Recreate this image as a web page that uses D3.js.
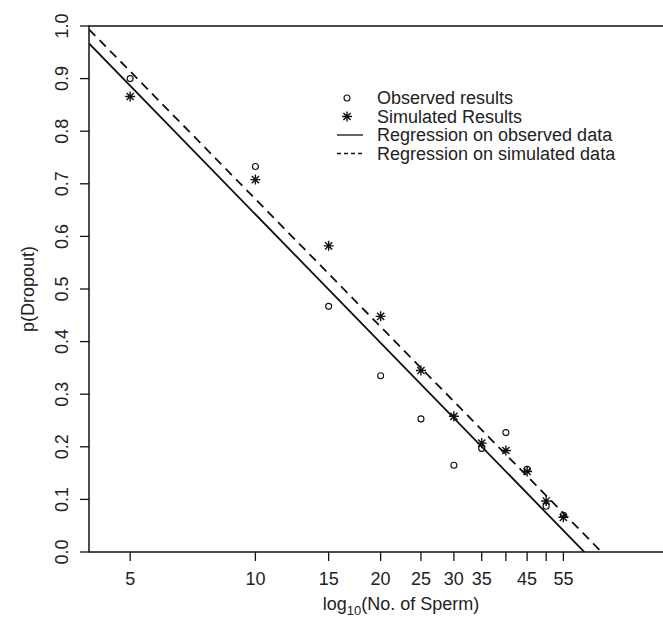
<!DOCTYPE html>
<html>
<head>
<meta charset="utf-8">
<script src="https://cdn.jsdelivr.net/npm/d3@7"></script>
<style>
    body { margin: 0; background: #ffffff; }
    text { font-family: "Liberation Sans", Arial, Helvetica, sans-serif; fill: #222222; }
</style>
</head>
<body>
<svg id="svgDropout" width="663" height="617"></svg>
<script>

// Number of sperm (x values)
var sperm = [5, 10, 15, 20, 25, 30, 35, 40, 45, 50, 55];

// Dropout probabilities
var observed = [0.900, 0.733, 0.467, 0.335, 0.253, 0.165, 0.197, 0.227, 0.157, 0.087, 0.070];
var simulated = [0.866, 0.708, 0.582, 0.448, 0.345, 0.258, 0.207, 0.193, 0.153, 0.097, 0.066];

// Regression coefficients, p = intercept + slope * log10(sperm)
var observedFit = [1.454, -0.812];
var simulatedFit = [1.4775, -0.8065];

// Axis ticks
var xTicks = [5, 10, 15, 20, 25, 30, 35, 40, 45, 50, 55];
var xTickLabels = ["5", "10", "15", "20", "25", "30", "35", "", "45", "", "55"];
var yTicks = [0.0, 0.1, 0.2, 0.3, 0.4, 0.5, 0.6, 0.7, 0.8, 0.9, 1.0];

// Legend entries
var legendLabels = ["Observed results", "Simulated Results",
    "Regression on observed data", "Regression on simulated data"];

function dropoutPlot() {
    /*
    Draws the dropout probability against number of sperm
    */

    var padding = {
        top: 26,
        left: 89,
        bottom: 65,
        right: -50
    };

    var svg = d3.select("#svgDropout");
    var svgWidth = +svg.attr("width");
    var svgHeight = +svg.attr("height");

    var xScale = d3.scaleLog()
        .domain([Math.pow(10, 0.6), Math.pow(10, 2.1)])
        .range([padding.left, svgWidth - padding.right]);

    var yScale = d3.scaleLinear()
        .domain([0, 1])
        .range([svgHeight - padding.bottom, padding.top]);

    var x0 = xScale.range()[0], x1 = xScale.range()[1];
    var y0 = yScale.range()[0], y1 = yScale.range()[1];

    // Clip path for the regression lines
    svg.append("clipPath")
        .attr("id", "plotClip")
        .append("rect")
        .attr("x", x0)
        .attr("y", y1)
        .attr("width", x1 - x0)
        .attr("height", y0 - y1);

    // Plot box
    svg.append("rect")
        .attr("x", x0)
        .attr("y", y1)
        .attr("width", x1 - x0)
        .attr("height", y0 - y1)
        .attr("fill", "none")
        .attr("stroke", "#111")
        .attr("stroke-width", 1.5);

    // x ticks
    svg.selectAll(".xtick")
        .data(xTicks)
        .enter()
        .append("line")
        .attr("class", "xtick")
        .attr("x1", function(d) { return xScale(d); })
        .attr("x2", function(d) { return xScale(d); })
        .attr("y1", y0)
        .attr("y2", y0 + 9)
        .attr("stroke", "#111")
        .attr("stroke-width", 1.3);

    svg.selectAll(".xlabel")
        .data(xTicks)
        .enter()
        .append("text")
        .attr("class", "xlabel")
        .attr("x", function(d) { return xScale(d); })
        .attr("y", y0 + 33)
        .attr("text-anchor", "middle")
        .style("font-size", "18px")
        .text(function(d, i) { return xTickLabels[i]; });

    // y ticks
    svg.selectAll(".ytick")
        .data(yTicks)
        .enter()
        .append("line")
        .attr("class", "ytick")
        .attr("x1", x0 - 9)
        .attr("x2", x0)
        .attr("y1", function(d) { return yScale(d); })
        .attr("y2", function(d) { return yScale(d); })
        .attr("stroke", "#111")
        .attr("stroke-width", 1.3);

    svg.selectAll(".ylabel")
        .data(yTicks)
        .enter()
        .append("text")
        .attr("class", "ylabel")
        .attr("transform", function(d) {
            return "translate(" + (x0 - 21) + "," + yScale(d) + ") rotate(-90)";
        })
        .attr("text-anchor", "middle")
        .style("font-size", "18px")
        .text(function(d) { return d3.format(".1f")(d); });

    // Axis titles
    var xTitle = svg.append("text")
        .attr("x", (x0 + x1) / 2)
        .attr("y", svgHeight - 7)
        .attr("text-anchor", "middle")
        .style("font-size", "18px");
    xTitle.append("tspan").text("log");
    xTitle.append("tspan").attr("dy", 5).style("font-size", "13px").text("10");
    xTitle.append("tspan").attr("dy", -5).text("(No. of Sperm)");

    svg.append("text")
        .attr("transform", "translate(34," + (y0 + y1) / 2 + ") rotate(-90)")
        .attr("text-anchor", "middle")
        .style("font-size", "18px")
        .text("p(Dropout)");

    // Regression lines
    var fitLine = d3.line()
        .x(function(d) { return xScale(d[0]); })
        .y(function(d) { return yScale(d[1]); });

    var ends = xScale.domain();
    [[observedFit, null], [simulatedFit, "9,6"]].forEach(function(fit) {
        var pts = ends.map(function(s) {
            return [s, fit[0][0] + fit[0][1] * Math.log10(s)];
        });
        svg.append("path")
            .attr("d", fitLine(pts))
            .attr("clip-path", "url(#plotClip)")
            .attr("fill", "none")
            .attr("stroke", "#111")
            .attr("stroke-width", 1.8)
            .attr("stroke-dasharray", fit[1]);
    });

    // Observed points
    svg.selectAll(".obs")
        .data(sperm)
        .enter()
        .append("circle")
        .attr("class", "obs")
        .attr("cx", function(d) { return xScale(d); })
        .attr("cy", function(d, i) { return yScale(observed[i]); })
        .attr("r", 3)
        .attr("fill", "none")
        .attr("stroke", "#111")
        .attr("stroke-width", 1.1);

    // Simulated points (asterisks)
    var star = "M-5,0H5M0,-5V5M-3.6,-3.6L3.6,3.6M-3.6,3.6L3.6,-3.6";
    svg.selectAll(".sim")
        .data(sperm)
        .enter()
        .append("path")
        .attr("class", "sim")
        .attr("transform", function(d, i) {
            return "translate(" + xScale(d) + "," + yScale(simulated[i]) + ")";
        })
        .attr("d", star)
        .attr("fill", "none")
        .attr("stroke", "#111")
        .attr("stroke-width", 1.4);

    // Legend
    var legend = svg.append("g")
        .attr("transform", "translate(350, 98)");
    var rowGap = 18.5;

    legend.append("circle")
        .attr("cx", -3).attr("cy", 0).attr("r", 3)
        .attr("fill", "none").attr("stroke", "#111").attr("stroke-width", 1.1);
    legend.append("path")
        .attr("transform", "translate(-3," + rowGap + ")")
        .attr("d", star)
        .attr("fill", "none").attr("stroke", "#111").attr("stroke-width", 1.4);
    legend.append("line")
        .attr("x1", -13).attr("x2", 13)
        .attr("y1", rowGap * 2).attr("y2", rowGap * 2)
        .attr("stroke", "#111").attr("stroke-width", 1.3);
    legend.append("line")
        .attr("x1", -13).attr("x2", 13)
        .attr("y1", rowGap * 3).attr("y2", rowGap * 3)
        .attr("stroke", "#111").attr("stroke-width", 1.3)
        .attr("stroke-dasharray", "4,3");

    legend.selectAll(".legendText")
        .data(legendLabels)
        .enter()
        .append("text")
        .attr("class", "legendText")
        .attr("x", 27)
        .attr("y", function(d, i) { return i * rowGap + 6; })
        .style("font-size", "18px")
        .text(function(d) { return d; });
};

dropoutPlot();

</script>
</body>
</html>
